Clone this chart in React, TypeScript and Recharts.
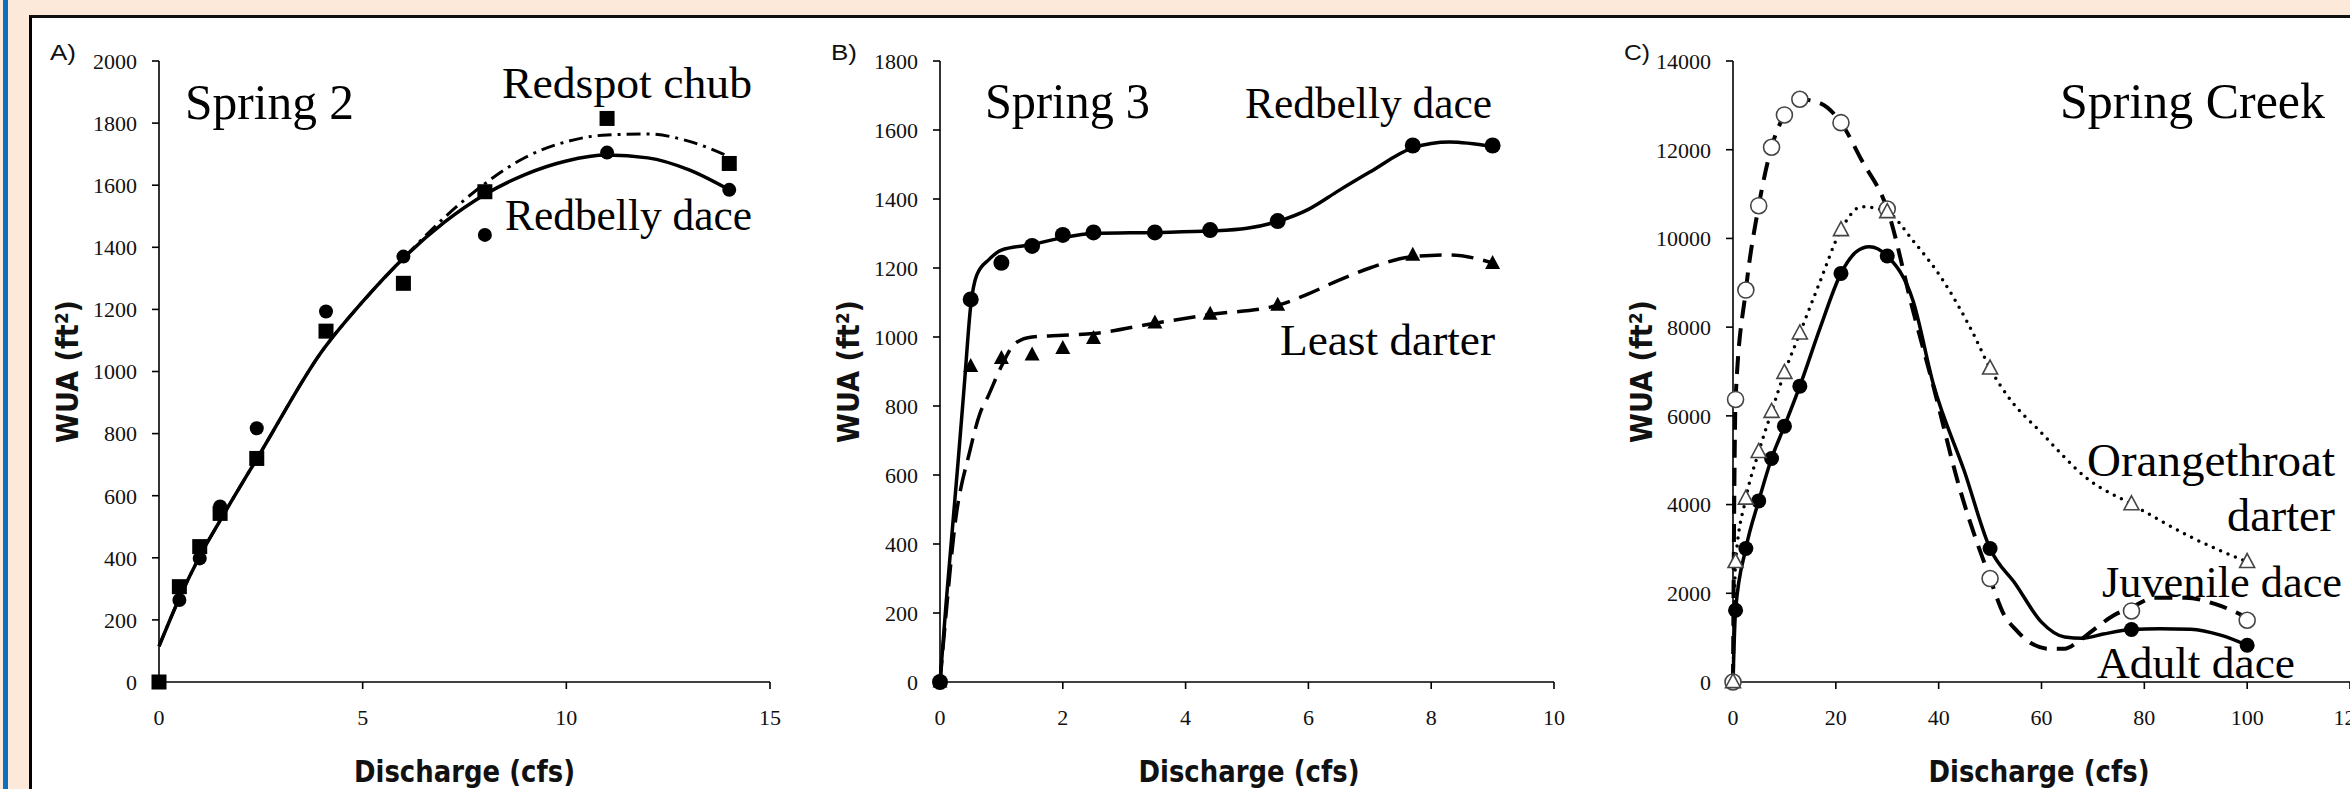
import { ComposedChart, Line, Scatter, XAxis, YAxis } from 'recharts';

// A) Spring 2
const s2Discharge = [0, 0.5, 1, 1.5, 2.4, 4.1, 6, 8, 11, 14];
const s2RedbellyWua = [0, 264, 398, 565, 817, 1193, 1370, 1440, 1705, 1585];
const s2RedspotWua = [0, 307, 436, 543, 720, 1130, 1284, 1579, 1815, 1670];
const s2CurveX = [0, 0.5, 1, 1.5, 2.5, 4, 5, 6, 7, 8, 9, 10, 11, 12, 13, 14];
const s2RedbellyCurve = [115, 270, 405, 520, 740, 1065, 1225, 1365, 1480, 1570, 1635, 1678, 1697, 1688, 1650, 1585];
const s2RedspotCurve = [115, 270, 405, 520, 740, 1065, 1225, 1365, 1495, 1605, 1690, 1740, 1762, 1765, 1742, 1692];
const s2XTicks = [0, 5, 10, 15];
const s2YTicks = [0, 200, 400, 600, 800, 1000, 1200, 1400, 1600, 1800, 2000];

// B) Spring 3
const s3Discharge = [0, 0.5, 1, 1.5, 2, 2.5, 3.5, 4.4, 5.5, 7.7, 9];
const s3RedbellyWua = [0, 1109, 1215, 1264, 1296, 1303, 1303, 1310, 1336, 1555, 1555];
const s3LeastWua = [0, 915, 938, 948, 967, 996, 1041, 1066, 1092, 1237, 1213];
const s3RedbellyCurveX = [0, 0.1, 0.2, 0.3, 0.4, 0.5, 0.6, 0.8, 1, 1.5, 2, 2.5, 3.5, 4.4, 5, 5.5, 6, 6.5, 7, 7.7, 8.3, 9];
const s3RedbellyCurve = [0, 230, 440, 650, 870, 1090, 1180, 1225, 1252, 1268, 1288, 1300, 1303, 1307, 1315, 1335, 1370, 1425, 1478, 1548, 1565, 1552];
const s3LeastCurveX = [0, 0.1, 0.24, 0.49, 0.65, 0.78, 1, 1.22, 1.5, 2, 2.5, 3.5, 4.4, 5.5, 6, 6.5, 7, 7.7, 8.3, 9];
const s3LeastCurve = [0, 200, 450, 672, 778, 827, 915, 981, 1000, 1005, 1010, 1040, 1065, 1092, 1125, 1165, 1200, 1233, 1238, 1215];
const s3XTicks = [0, 2, 4, 6, 8, 10];
const s3YTicks = [0, 200, 400, 600, 800, 1000, 1200, 1400, 1600, 1800];

// C) Spring Creek
const scDischarge = [0, 0.5, 2.5, 5, 7.5, 10, 13, 21, 30, 50, 77.5, 100];
const scAdultWua = [0, 1617, 3009, 4083, 5039, 5768, 6670, 9212, 9603, 3009, 1182, 828];
const scJuvenileWua = [0, 6370, 8836, 10738, 12055, 12784, 13137, 12610, 10663, 2332, 1602, 1392];
const scOrangeWua = [0, 2707, 4137, 5188, 6091, 6971, 7860, 10190, 10596, 7069, 4009, 2707];
const scAdultCurveX = [0, 0.5, 2.5, 5, 7.5, 10, 13, 17, 21, 24, 26.5, 30, 35, 39, 45, 50, 55, 60, 64.5, 68, 72, 77.5, 83, 89, 95, 100];
const scAdultCurve = [0, 1617, 3009, 4083, 5039, 5768, 6670, 8000, 9212, 9700, 9812, 9603, 8600, 6700, 4750, 3009, 2200, 1350, 1015, 985, 1080, 1182, 1200, 1190, 1050, 828];
const scJuvenileCurveX = [0, 0.2, 0.5, 2.5, 5, 7.5, 10, 13, 17, 21, 25, 30, 35, 39, 44, 50, 52.6, 55, 58, 61.5, 64.5, 67, 70, 74, 77.5, 82, 88, 94, 100];
const scJuvenileCurve = [0, 3500, 6370, 8836, 10738, 12055, 12784, 13137, 13047, 12610, 11767, 10663, 8383, 6654, 4399, 2332, 1543, 1180, 872, 750, 750, 900, 1165, 1500, 1680, 1900, 1900, 1750, 1450];
const scOrangeCurveX = [0, 0.5, 2.5, 5, 7.5, 10, 13, 17, 21, 25, 30, 35, 40.8, 46.7, 50, 54, 59.5, 69.3, 77.5, 89, 100];
const scOrangeCurve = [0, 2707, 4137, 5188, 6091, 6971, 7860, 9050, 10190, 10715, 10596, 9950, 9061, 7860, 7069, 6354, 5677, 4549, 4009, 3271, 2707];
const scXTicks = [0, 20, 40, 60, 80, 100, 120];
const scYTicks = [0, 2000, 4000, 6000, 8000, 10000, 12000, 14000];

const pts = (xs: number[], ys: number[]) => xs.map((x, i) => ({ x, y: ys[i] }));

const H = 789;
const tickFont = { fontSize: 22, fontFamily: 'Liberation Serif, serif', fill: '#111' };
const axisStroke = { stroke: '#000', strokeWidth: 1.6 };

const dot = (r: number) => (p: any) => <circle cx={p.cx} cy={p.cy} r={r} fill="#000" />;
const ring = (r: number) => (p: any) => (
  <circle cx={p.cx} cy={p.cy} r={r} fill="#fff" stroke="#444" strokeWidth={1.6} />
);
const square = (s: number) => (p: any) => (
  <rect x={p.cx - s / 2} y={p.cy - s / 2} width={s} height={s} fill="#000" />
);
const tri = (w: number, h: number, open: boolean) => (p: any) => (
  <path
    d={`M${p.cx},${p.cy - h * 0.6}L${p.cx + w / 2},${p.cy + h * 0.4}L${p.cx - w / 2},${p.cy + h * 0.4}Z`}
    fill={open ? '#fff' : '#000'}
    stroke={open ? '#444' : 'none'}
    strokeWidth={1.6}
  />
);

function Panel({
  left,
  width,
  marginLeft,
  marginRight,
  xMax,
  yMax,
  xTicks,
  yTicks,
  children,
}: {
  left: number;
  width: number;
  marginLeft: number;
  marginRight: number;
  xMax: number;
  yMax: number;
  xTicks: number[];
  yTicks: number[];
  children: React.ReactNode;
}) {
  return (
    <div style={{ position: 'absolute', left, top: 0 }}>
      <ComposedChart
        width={width}
        height={H}
        margin={{ top: 61, right: marginRight, bottom: 67, left: marginLeft }}
      >
        <XAxis
          type="number"
          dataKey="x"
          domain={[0, xMax]}
          ticks={xTicks}
          interval={0}
          height={40}
          tickSize={7}
          tickMargin={20}
          tick={tickFont}
          axisLine={axisStroke}
          tickLine={axisStroke}
        />
        <YAxis
          type="number"
          dataKey="y"
          domain={[0, yMax]}
          ticks={yTicks}
          interval={0}
          width={60}
          tickSize={7}
          tickMargin={15}
          tick={tickFont}
          axisLine={axisStroke}
          tickLine={axisStroke}
        />
        {children}
      </ComposedChart>
    </div>
  );
}

const serif = 'Liberation Serif, serif';
const sansBold = "'Liberation Sans Narrow', 'DejaVu Sans Condensed', sans-serif";

function Annot({ x, y, text, size, len }: { x: number; y: number; text: string; size: number; len: number }) {
  return (
    <text x={x} y={y} fontFamily={serif} fontSize={size} fill="#000" textLength={len} lengthAdjust="spacingAndGlyphs">
      {text}
    </text>
  );
}

function AxisTitles({ axisX, centerX, letter }: { axisX: number; centerX: number; letter: string }) {
  return (
    <g>
      <text x={axisX - 109} y={60} fontFamily="Liberation Sans, sans-serif" fontSize={22} fill="#111" textLength={26} lengthAdjust="spacingAndGlyphs">
        {letter}
      </text>
      <text
        transform={`translate(${axisX - 81},371.5) rotate(-90)`}
        textAnchor="middle"
        fontFamily={sansBold}
        fontWeight="bold"
        fontSize={31}
        fill="#111"
        textLength={143}
        lengthAdjust="spacingAndGlyphs"
      >
        WUA (ft²)
      </text>
      <text
        x={centerX}
        y={781.5}
        textAnchor="middle"
        fontFamily={sansBold}
        fontWeight="bold"
        fontSize={30}
        fill="#111"
        textLength={221}
        lengthAdjust="spacingAndGlyphs"
      >
        Discharge (cfs)
      </text>
    </g>
  );
}

export default function App() {
  return (
    <div
      style={{
        position: 'absolute',
        left: 0,
        top: 0,
        width: 2350,
        height: H,
        overflow: 'hidden',
        background: '#fde9d9',
      }}
    >
      <div style={{ position: 'absolute', left: 3, top: 0, width: 5, height: H, background: '#0b6fc0' }} />
      <div
        style={{
          position: 'absolute',
          left: 29,
          top: 15,
          width: 2321,
          height: H - 15,
          background: '#fff',
          borderLeft: '3px solid #000',
          borderTop: '3px solid #111',
          boxSizing: 'border-box',
        }}
      />

      <Panel left={0} width={800} marginLeft={99} marginRight={30} xMax={15} yMax={2000} xTicks={s2XTicks} yTicks={s2YTicks}>
        <Line data={pts(s2CurveX, s2RedspotCurve)} dataKey="y" type="monotone" stroke="#000" strokeWidth={3} strokeDasharray="14 6 3 6" dot={false} activeDot={false} isAnimationActive={false} />
        <Line data={pts(s2CurveX, s2RedbellyCurve)} dataKey="y" type="monotone" stroke="#000" strokeWidth={3.5} dot={false} activeDot={false} isAnimationActive={false} />
        <Scatter data={pts(s2Discharge, s2RedbellyWua)} dataKey="y" shape={dot(7)} isAnimationActive={false} />
        <Scatter data={pts(s2Discharge, s2RedspotWua)} dataKey="y" shape={square(15)} isAnimationActive={false} />
      </Panel>

      <Panel left={780} width={800} marginLeft={100} marginRight={26} xMax={10} yMax={1800} xTicks={s3XTicks} yTicks={s3YTicks}>
        <Line data={pts(s3LeastCurveX, s3LeastCurve)} dataKey="y" type="monotone" stroke="#000" strokeWidth={3.5} strokeDasharray="22 10" dot={false} activeDot={false} isAnimationActive={false} />
        <Line data={pts(s3RedbellyCurveX, s3RedbellyCurve)} dataKey="y" type="monotone" stroke="#000" strokeWidth={3.5} dot={false} activeDot={false} isAnimationActive={false} />
        <Scatter data={pts(s3Discharge, s3RedbellyWua)} dataKey="y" shape={dot(8)} isAnimationActive={false} />
        <Scatter data={pts(s3Discharge, s3LeastWua)} dataKey="y" shape={tri(15, 14, false)} isAnimationActive={false} />
      </Panel>

      <Panel left={1560} width={790} marginLeft={113} marginRight={0} xMax={120} yMax={14000} xTicks={scXTicks} yTicks={scYTicks}>
        <Line data={pts(scOrangeCurveX, scOrangeCurve)} dataKey="y" type="monotone" stroke="#000" strokeWidth={3.5} strokeDasharray="0 8" strokeLinecap="round" dot={false} activeDot={false} isAnimationActive={false} />
        <Line data={pts(scJuvenileCurveX, scJuvenileCurve)} dataKey="y" type="monotone" stroke="#000" strokeWidth={4} strokeDasharray="18 10" dot={false} activeDot={false} isAnimationActive={false} />
        <Line data={pts(scAdultCurveX, scAdultCurve)} dataKey="y" type="monotone" stroke="#000" strokeWidth={3.5} dot={false} activeDot={false} isAnimationActive={false} />
        <Scatter data={pts(scDischarge, scAdultWua)} dataKey="y" shape={dot(7.5)} isAnimationActive={false} />
        <Scatter data={pts(scDischarge, scJuvenileWua)} dataKey="y" shape={ring(8)} isAnimationActive={false} />
        <Scatter data={pts(scDischarge, scOrangeWua)} dataKey="y" shape={tri(15, 14, true)} isAnimationActive={false} />
      </Panel>

      <svg width={2350} height={H} style={{ position: 'absolute', left: 0, top: 0, pointerEvents: 'none' }}>
        <AxisTitles axisX={159} centerX={464.5} letter="A)" />
        <AxisTitles axisX={940} centerX={1249} letter="B)" />
        <AxisTitles axisX={1733} centerX={2039} letter="C)" />

        <Annot x={185} y={119} text="Spring 2" size={50} len={169} />
        <Annot x={502} y={98} text="Redspot chub" size={45} len={250} />
        <Annot x={505} y={230} text="Redbelly dace" size={45} len={247} />

        <Annot x={985} y={118} text="Spring 3" size={50} len={165} />
        <Annot x={1245} y={118} text="Redbelly dace" size={45} len={247} />
        <Annot x={1280} y={355} text="Least darter" size={45} len={215} />

        <Annot x={2060} y={118} text="Spring Creek" size={50} len={265} />
        <Annot x={2087} y={476} text="Orangethroat" size={47} len={248} />
        <Annot x={2227} y={531} text="darter" size={47} len={108} />
        <Annot x={2102} y={597} text="Juvenile dace" size={45} len={240} />
        <Annot x={2097} y={678} text="Adult dace" size={45} len={198} />
      </svg>
    </div>
  );
}
